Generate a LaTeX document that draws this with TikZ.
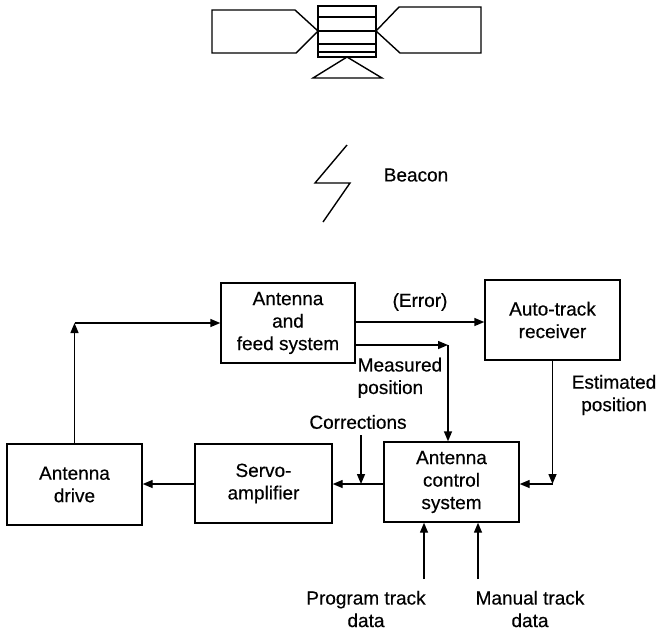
\documentclass[tikz,border=0pt]{standalone}
\usepackage{fontspec}
\setmainfont{Liberation Sans}[FakeBold=0.4]
\usetikzlibrary{arrows.meta}
\begin{document}
\begin{tikzpicture}[x=1pt,y=-1pt,
  line width=1.4pt,
  lbl/.style={font=\fontsize{19}{22.5}\selectfont, align=center, inner sep=0pt},
  blk/.style={draw, lbl, minimum width=#1},
  blk/.default=134pt,
  flow/.style={-{Triangle[length=10pt,width=8pt]}}]
\useasboundingbox (0,0) rectangle (660,630);

% satellite: solar panels, body and antenna reflector
\draw (212,10) -- (295,10) -- (318,31) -- (296,53) -- (212,53) -- cycle;
\draw (376,31) -- (399,7) -- (481,7) -- (481,53) -- (400,53) -- cycle;
\draw (318,6) rectangle (376,57);
\foreach \yy in {17,31,44,52} \draw (318,\yy) -- (376,\yy);
\draw (347,57) -- (313,78) -- (382,78) -- cycle;

% beacon signal
\draw (347,145) -- (315,183) -- (350,183) -- (323,222);
\node[lbl] (beacon) at (416,175) {Beacon};

% blocks
\node[blk, minimum height=80pt] (feed) at (288,323) {Antenna\\and\\feed system};
\node[blk=135pt, minimum height=80pt] (recv) at (552.5,320) {Auto-track\\receiver};
\node[blk=135pt, minimum height=81pt] (drive) at (74.5,484.5) {Antenna\\drive};
\node[blk=137pt, minimum height=79pt] (servo) at (263.5,483.5) {Servo-\\amplifier};
\node[blk=135pt, minimum height=80pt] (ctrl) at (451.5,482) {Antenna\\control\\system};

% junction points
\coordinate (cdrive) at (drive.north |- feed.west);
\coordinate (cmeas) at (448,345);
\coordinate (cest) at (recv.south |- 0,484);
\coordinate (corr) at (361,435);
\coordinate (corrin) at (361,484);
\coordinate (prog) at (424,579);
\coordinate (manual) at (478,579);

% connectors
\draw[flow] (drive.north) -- (cdrive);
\draw[flow] (cdrive) -- (feed.west);
\draw[flow] (feed.east |- 0,322) -- (recv.west |- 0,322);
\draw[flow] (feed.east |- cmeas) -- (cmeas);
\draw[flow] (cmeas) -- (cmeas |- ctrl.north);
\draw[flow] (recv.south) -- (cest);
\draw[flow] (cest) -- (ctrl.east |- cest);
\draw[flow] (ctrl.west |- 0,484) -- (servo.east |- 0,484);
\draw[flow] (corr) -- (corrin);
\draw[flow] (servo.west |- 0,484) -- (drive.east |- 0,484);
\draw[flow] (prog) -- (prog |- ctrl.south);
\draw[flow] (manual) -- (manual |- ctrl.south);

% signal labels
\node[lbl] (err) at (420,302) {(Error)};
\node[lbl, anchor=north west, align=left] (meas) at (357,357) {Measured\\position};
\node[lbl] (corrl) at (358,422) {Corrections};
\node[lbl] (estl) at (614,395) {Estimated\\position};
\node[lbl] (progl) at (366,609) {Program track\\data};
\node[lbl] (manl) at (530,609) {Manual track\\data};
\end{tikzpicture}
\end{document}
